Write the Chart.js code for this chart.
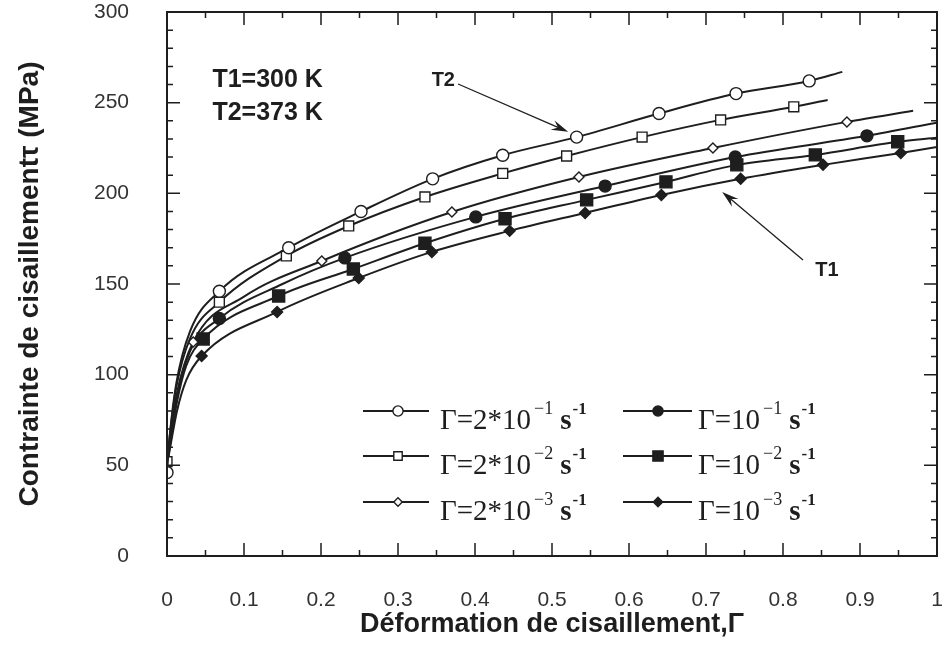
<!DOCTYPE html>
<html>
<head>
<meta charset="utf-8">
<script src="https://cdn.jsdelivr.net/npm/chart.js@4.4.1/dist/chart.umd.min.js"></script>
<style>
  html, body { margin: 0; padding: 0; background: #fff; }
</style>
</head>
<body>
<canvas id="chart" width="947" height="648"></canvas>
<script>
// Courbes : déformation (x) et contrainte en MPa (y)
// 1 = point avec symbole, 0 = simple noeud de la courbe
// T2 = 373 K (symboles vides)
const strainO1 = [0, 0.004, 0.012, 0.03, 0.068, 0.158, 0.252, 0.345, 0.436, 0.532, 0.639, 0.739, 0.834, 0.877];
const stressO1 = [46, 68, 95, 124, 146, 170, 190, 208, 221, 231, 244, 255, 262, 267];
const marksO1  = [1, 0, 0, 0, 1, 1, 1, 1, 1, 1, 1, 1, 1, 0];

const strainO2 = [0, 0.004, 0.012, 0.03, 0.068, 0.155, 0.236, 0.335, 0.436, 0.519, 0.617, 0.719, 0.814, 0.858];
const stressO2 = [52, 68, 93, 120, 140, 165.5, 182, 198, 211, 220.6, 231, 240.5, 247.7, 251.5];
const marksO2  = [1, 0, 0, 0, 1, 1, 1, 1, 1, 1, 1, 1, 1, 0];

const strainO3 = [0, 0.005, 0.013, 0.034, 0.1, 0.201, 0.37, 0.535, 0.709, 0.883, 0.969];
const stressO3 = [50, 68, 90, 118, 143, 162.7, 189.7, 209, 225, 239.4, 245.5];
const marksO3  = [0, 0, 0, 1, 0, 1, 1, 1, 1, 1, 0];

// T1 = 300 K (symboles pleins)
const strainF1 = [0, 0.005, 0.013, 0.03, 0.068, 0.15, 0.231, 0.401, 0.569, 0.738, 0.909, 1.0];
const stressF1 = [50, 66, 88, 113, 131, 150, 164.4, 187, 204, 220, 231.7, 239];
const marksF1  = [0, 0, 0, 0, 1, 0, 1, 1, 1, 1, 1, 0];

const strainF2 = [0, 0.005, 0.013, 0.025, 0.047, 0.145, 0.242, 0.335, 0.439, 0.545, 0.648, 0.74, 0.842, 0.949, 1.0];
const stressF2 = [50, 64, 85, 105, 119.7, 143.4, 158.3, 172.5, 186, 196.4, 206.3, 215.7, 221.2, 228.4, 230.6];
const marksF2  = [0, 0, 0, 0, 1, 1, 1, 1, 1, 1, 1, 1, 1, 1, 0];

const strainF3 = [0, 0.005, 0.013, 0.025, 0.045, 0.143, 0.249, 0.344, 0.445, 0.543, 0.642, 0.745, 0.852, 0.953, 1.0];
const stressF3 = [50, 62, 80, 97, 110.3, 134.6, 153.3, 167.7, 179.3, 189.2, 199.1, 208, 215.7, 222.3, 225.6];
const marksF3  = [0, 0, 0, 0, 1, 1, 1, 1, 1, 1, 1, 1, 1, 1, 0];

// Légende
const legendBase = ["Γ=2*10", "Γ=2*10", "Γ=2*10", "Γ=10", "Γ=10", "Γ=10"];
const legendExp  = ["−1", "−2", "−3", "−1", "−2", "−3"];

// Axes
const xMin = 0, xMax = 1, xStep = 0.1;
const yMin = 0, yMax = 300, yStep = 50;

const INK = "#1e1e1e";

function makeSeries(xs, ys, marks, style, filled, radius) {
  return {
    data: xs.map((x, i) => ({ x: x, y: ys[i] })),
    showLine: true,
    borderColor: INK,
    borderWidth: 2,
    cubicInterpolationMode: "monotone",
    pointStyle: style,
    pointRadius: ctx => marks[ctx.dataIndex] ? radius : 0,
    pointBorderWidth: 1.4,
    pointBorderColor: INK,
    pointBackgroundColor: filled ? INK : "#fff",
    _legendRadius: radius
  };
}

const datasets = [
  makeSeries(strainO1, stressO1, marksO1, "circle", false, 6),
  makeSeries(strainO2, stressO2, marksO2, "rect", false, 7),
  makeSeries(strainO3, stressO3, marksO3, "rectRot", false, 5),
  makeSeries(strainF1, stressF1, marksF1, "circle", true, 6),
  makeSeries(strainF2, stressF2, marksF2, "rect", true, 8.5),
  makeSeries(strainF3, stressF3, marksF3, "rectRot", true, 5.5)
];

function drawArrow(ctx, x1, y1, x2, y2) {
  const a = Math.atan2(y2 - y1, x2 - x1);
  const len = 17, half = 5;
  ctx.beginPath();
  ctx.moveTo(x1, y1);
  ctx.lineTo(x2 - 8 * Math.cos(a), y2 - 8 * Math.sin(a));
  ctx.stroke();
  ctx.beginPath();
  ctx.moveTo(x2, y2);
  ctx.lineTo(x2 - len * Math.cos(a) + half * Math.sin(a), y2 - len * Math.sin(a) - half * Math.cos(a));
  ctx.lineTo(x2 - len * 0.65 * Math.cos(a), y2 - len * 0.65 * Math.sin(a));
  ctx.lineTo(x2 - len * Math.cos(a) - half * Math.sin(a), y2 - len * Math.sin(a) + half * Math.cos(a));
  ctx.closePath();
  ctx.fill();
}

// Cadre avec graduations intérieures sur les quatre côtés
const frameTicks = {
  id: "frameTicks",
  afterDatasetsDraw(chart) {
    const { ctx, chartArea: a, scales: { x, y } } = chart;
    ctx.save();
    ctx.strokeStyle = INK;
    ctx.lineWidth = 1.5;
    for (let i = 0; i <= 20; i++) {
      const px = x.getPixelForValue(i * 0.05);
      const len = i % 2 === 0 ? 13 : 6;
      ctx.beginPath();
      ctx.moveTo(px, a.bottom); ctx.lineTo(px, a.bottom - len);
      ctx.moveTo(px, a.top); ctx.lineTo(px, a.top + len);
      ctx.stroke();
    }
    for (let i = 0; i <= 30; i++) {
      const py = y.getPixelForValue(i * 10);
      const len = i % 5 === 0 ? 13 : 6;
      ctx.beginPath();
      ctx.moveTo(a.left, py); ctx.lineTo(a.left + len, py);
      ctx.moveTo(a.right, py); ctx.lineTo(a.right - len, py);
      ctx.stroke();
    }
    ctx.lineWidth = 2;
    ctx.strokeRect(a.left, a.top, a.right - a.left, a.bottom - a.top);
    ctx.restore();
  }
};

// Annotations T1/T2 et légende
const annotations = {
  id: "annotations",
  afterDraw(chart) {
    const { ctx, scales: { x, y } } = chart;
    ctx.save();
    ctx.fillStyle = INK;
    ctx.strokeStyle = INK;
    ctx.lineWidth = 1.3;

    ctx.font = "bold 25px 'Liberation Sans', Arial, sans-serif";
    ctx.textAlign = "left";
    ctx.textBaseline = "middle";
    ctx.fillText("T1=300 K", x.getPixelForValue(0.059), y.getPixelForValue(262.5));
    ctx.fillText("T2=373 K", x.getPixelForValue(0.059), y.getPixelForValue(244.3));

    ctx.font = "bold 20px 'Liberation Sans', Arial, sans-serif";
    ctx.textAlign = "right";
    ctx.fillText("T2", x.getPixelForValue(0.374), y.getPixelForValue(262.5));
    drawArrow(ctx, x.getPixelForValue(0.378), y.getPixelForValue(260.3),
                   x.getPixelForValue(0.521), y.getPixelForValue(233.9));
    ctx.textAlign = "left";
    ctx.fillText("T1", x.getPixelForValue(0.842), y.getPixelForValue(157.7));
    drawArrow(ctx, x.getPixelForValue(0.826), y.getPixelForValue(163.3),
                   x.getPixelForValue(0.721), y.getPixelForValue(200.8));

    // légende : deux colonnes de trois lignes
    const cols = [{ l0: 363, l1: 429, m: 398, t: 440 }, { l0: 623, l1: 692, m: 658, t: 698 }];
    const rows = [411, 456, 502];
    ctx.textBaseline = "alphabetic";
    datasets.forEach((ds, i) => {
      const c = cols[Math.floor(i / 3)];
      const ry = rows[i % 3];
      ctx.lineWidth = 2;
      ctx.beginPath();
      ctx.moveTo(c.l0, ry); ctx.lineTo(c.l1, ry);
      ctx.stroke();
      ctx.lineWidth = 1.4;
      ctx.fillStyle = ds.pointBackgroundColor;
      Chart.helpers.drawPoint(ctx, { pointStyle: ds.pointStyle, radius: ds._legendRadius * 0.85, rotation: 0, borderWidth: 1.4 }, c.m, ry);
      ctx.fillStyle = INK;

      let tx = c.t;
      ctx.font = "29px 'Liberation Serif', 'Times New Roman', serif";
      ctx.fillText(legendBase[i], tx, ry + 18);
      tx += ctx.measureText(legendBase[i]).width + 3;
      ctx.font = "18px 'Liberation Serif', 'Times New Roman', serif";
      ctx.fillText(legendExp[i], tx, ry + 3);
      tx += ctx.measureText(legendExp[i]).width + 7;
      ctx.font = "bold 29px 'Liberation Serif', 'Times New Roman', serif";
      ctx.fillText("s", tx, ry + 18);
      tx += ctx.measureText("s").width + 1;
      ctx.font = "bold 17px 'Liberation Serif', 'Times New Roman', serif";
      ctx.fillText("-1", tx, ry + 3);
    });
    ctx.restore();
  }
};

Chart.defaults.font.family = "'Liberation Sans', Arial, sans-serif";
Chart.defaults.color = "#333";

new Chart(document.getElementById("chart"), {
  type: "scatter",
  data: { datasets: datasets },
  options: {
    responsive: false,
    animation: false,
    layout: { padding: { top: 12, right: 10, left: 0, bottom: 0 } },
    plugins: { legend: { display: false }, tooltip: { enabled: false } },
    scales: {
      x: {
        type: "linear", min: xMin, max: xMax,
        grid: { display: false }, border: { display: false },
        ticks: {
          stepSize: xStep, padding: 24, font: { size: 21 }, color: "#333",
          callback: v => String(+v.toFixed(1))
        },
        title: {
          display: true, text: "Déformation de cisaillement,Γ",
          font: { size: 27, weight: "bold" }, color: INK,
          padding: { top: 0, bottom: 7 }
        },
        afterFit(s) { s.height = 92; s.paddingLeft = 0; s.paddingRight = 0; }
      },
      y: {
        type: "linear", min: yMin, max: yMax,
        grid: { display: false }, border: { display: false },
        ticks: { stepSize: yStep, padding: 30, font: { size: 21 }, color: "#333" },
        title: {
          display: true, text: "Contrainte de cisaillementτ (MPa)",
          font: { size: 28, weight: "bold" }, color: INK,
          padding: { top: 13, bottom: 0 }
        },
        afterFit(s) { s.width = 167; s.paddingTop = 0; s.paddingBottom = 0; }
      }
    }
  },
  plugins: [frameTicks, annotations]
});
</script>
</body>
</html>
